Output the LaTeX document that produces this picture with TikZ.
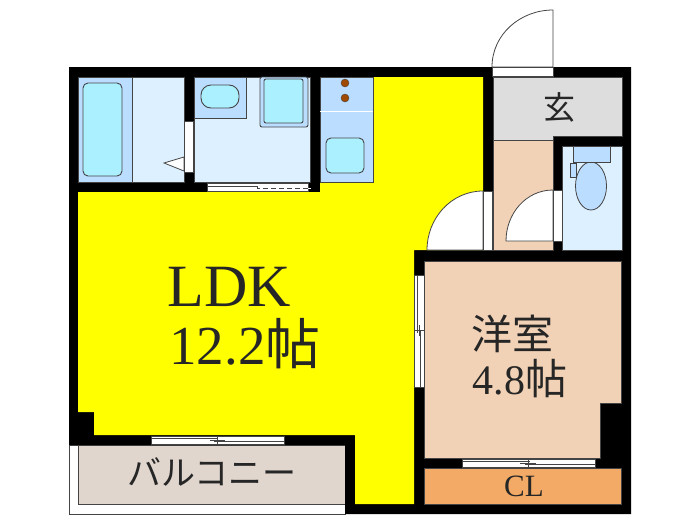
\documentclass[tikz,border=0pt]{standalone}
\usepackage{fontspec}
\setmainfont{Liberation Serif}
\newfontfamily\cjk{Noto Sans CJK JP}
\definecolor{ldkyellow}{HTML}{FFFF00}
\definecolor{wetblue}{HTML}{BBDDFF}
\definecolor{wetlight}{HTML}{DDF0FF}
\definecolor{tubcyan}{HTML}{AAF0FF}
\definecolor{roomtan}{HTML}{F2D2B6}
\definecolor{entrygray}{HTML}{DDDDDD}
\definecolor{closetorange}{HTML}{F2AA66}
\definecolor{balconytan}{HTML}{E0D6CE}
\definecolor{burnerbrown}{HTML}{A04A00}
\definecolor{edgegray}{HTML}{444444}
\tikzset{
  wall/.style={fill=black},
  room/.style={fill=#1,draw=edgegray,line width=.6pt},
  fixture/.style={fill=#1,draw=edgegray,line width=.9pt,rounded corners=5pt},
  door/.style={fill=white,draw=edgegray,line width=.8pt},
  opening/.style={fill=white,draw=edgegray,line width=.5pt},
  rail/.style={draw=edgegray,line width=.6pt},
  label/.style={inner sep=0pt,text=black!85}
}
\begin{document}
\begin{tikzpicture}[x=1pt,y=-1pt]
    \useasboundingbox [fill=white] (0,0) rectangle (700,525);
    % entrance door
    \draw [door] (553,67) -- (553,10) to [out=180,in=90] (492,67) -- cycle;
    % balcony
    \draw [opening] (69,445) rectangle (345,514);
    \draw [room=balconytan] (78,445) rectangle (345,504);
    % walls
    \path [wall] (69,67) -- (631,67) -- (631,514) -- (345,514) -- (345,445) -- (69,445) -- cycle;
    % ldk
    \path [fill=ldkyellow] (373,77) -- (483,77) -- (483,250) -- (414,250) -- (414,504) -- (355,504) -- (355,435) -- (94,435) -- (94,412) -- (78,412) -- (78,192) -- (320,192) -- (320,182) -- (373,182) -- cycle;
    \draw [door] (483,250) -- (427,250) to [out=90,in=180] (483,191) -- cycle;
    \draw [opening] (483,191) rectangle (492,250);
    % bath
    \draw [room=wetblue] (78,77) rectangle (132,182);
    \draw [fixture=tubcyan] (83,83) rectangle (122,176);
    \draw [room=wetlight] (132,77) rectangle (184,182);
    \draw [door] (184,157) -- (164,163) -- (184,171) -- cycle;
    \draw [opening] (184,121) rectangle (193,172);
    % washroom
    \draw [room=wetlight] (194,77) rectangle (310,182);
    \draw [room=wetblue] (194,77) rectangle (246,118);
    \draw [fixture=tubcyan,rounded corners=10pt] (201,85) rectangle (239,108);
    \draw [fixture=wetblue,rounded corners=2pt] (260,77) rectangle (308,127);
    \draw [fixture=tubcyan,rounded corners=2pt] (264,79) rectangle (303,123);
    \draw [opening] (207,183) rectangle (308,191);
    \draw [rail] (207,186) -- (257,186) -- (257,188) -- (308,188);
    \foreach \x in {260,268,...,308}
        \draw [white,line width=1pt] (\x,188) -- ++(3,0);
    % kitchen
    \draw [room=wetblue] (320,77) rectangle (373,111);
    \draw [room=wetblue] (320,111) rectangle (373,182);
    \draw [draw=white,line width=.8pt] (320,111) -- (373,111);
    \foreach \y in {83,98}
        \draw [fill=burnerbrown,draw=edgegray] (345,\y) circle (4);
    \draw [fixture=tubcyan] (326,138) rectangle (364,173);
    % entrance and hall
    \draw [opening] (492,67) rectangle (553,76);
    \draw [room=entrygray] (493,77) -- (622,77) -- (622,136) -- (553,136) -- (553,140) -- (493,140) -- cycle;
    \draw [room=roomtan] (493,140) rectangle (553,250);
    % toilet
    \draw [room=wetlight] (562,146) rectangle (622,250);
    \draw [room=wetblue,line width=.8pt] (591,186) ellipse (15.5 and 24);
    \draw [room=wetblue] (573,146) rectangle (610,162);
    \draw [room=wetblue] (570,163) rectangle (576,177);
    \draw [door] (553,241) -- (506,241) to [out=90,in=180] (553,190) -- cycle;
    \draw [opening] (553,190) rectangle (562,241);
    % western room
    \draw [room=roomtan] (424,261) -- (621,261) -- (621,403) -- (600,403) -- (600,458) -- (424,458) -- cycle;
    \draw [opening] (414,275) rectangle (424,387);
    \draw [rail] (417,275) -- (417,333) (420,330) -- (420,387) (414,330) -- (424,330) (419,325) -- (419,336);
    \draw [opening] (462,459) rectangle (595,467);
    \draw [rail] (462,461) -- (530,461) (525,464) -- (595,464) (528,459) -- (528,467) (520,463) -- (536,463);
    \draw [room=closetorange] (424,468) rectangle (621,504);
    % balcony window
    \draw [opening] (151,436) rectangle (284,444);
    \draw [rail] (151,438) -- (218,438) (214,441) -- (284,441) (217,436) -- (217,444) (210,440) -- (225,440);
    % labels
    \node [label] (ldk) at (229,287) {\fontsize{60}{60}\selectfont LDK};
    \node [label] (ldkarea) at (245,344) {\fontsize{55}{55}\selectfont 12.2{\cjk 帖}};
    \node [label] (western) at (512,334) {\fontsize{41}{41}\selectfont\cjk 洋室};
    \node [label] (westernarea) at (520,379) {\fontsize{42}{42}\selectfont 4.8{\cjk 帖}};
    \node [label] (entry) at (559,107) {\fontsize{32}{32}\selectfont\cjk 玄};
    \node [label] (balcony) at (212,472) {\fontsize{34}{34}\selectfont\cjk バルコニー};
    \node [label] (closet) at (524,486) {\fontsize{31}{31}\selectfont CL};
\end{tikzpicture}
\end{document}
